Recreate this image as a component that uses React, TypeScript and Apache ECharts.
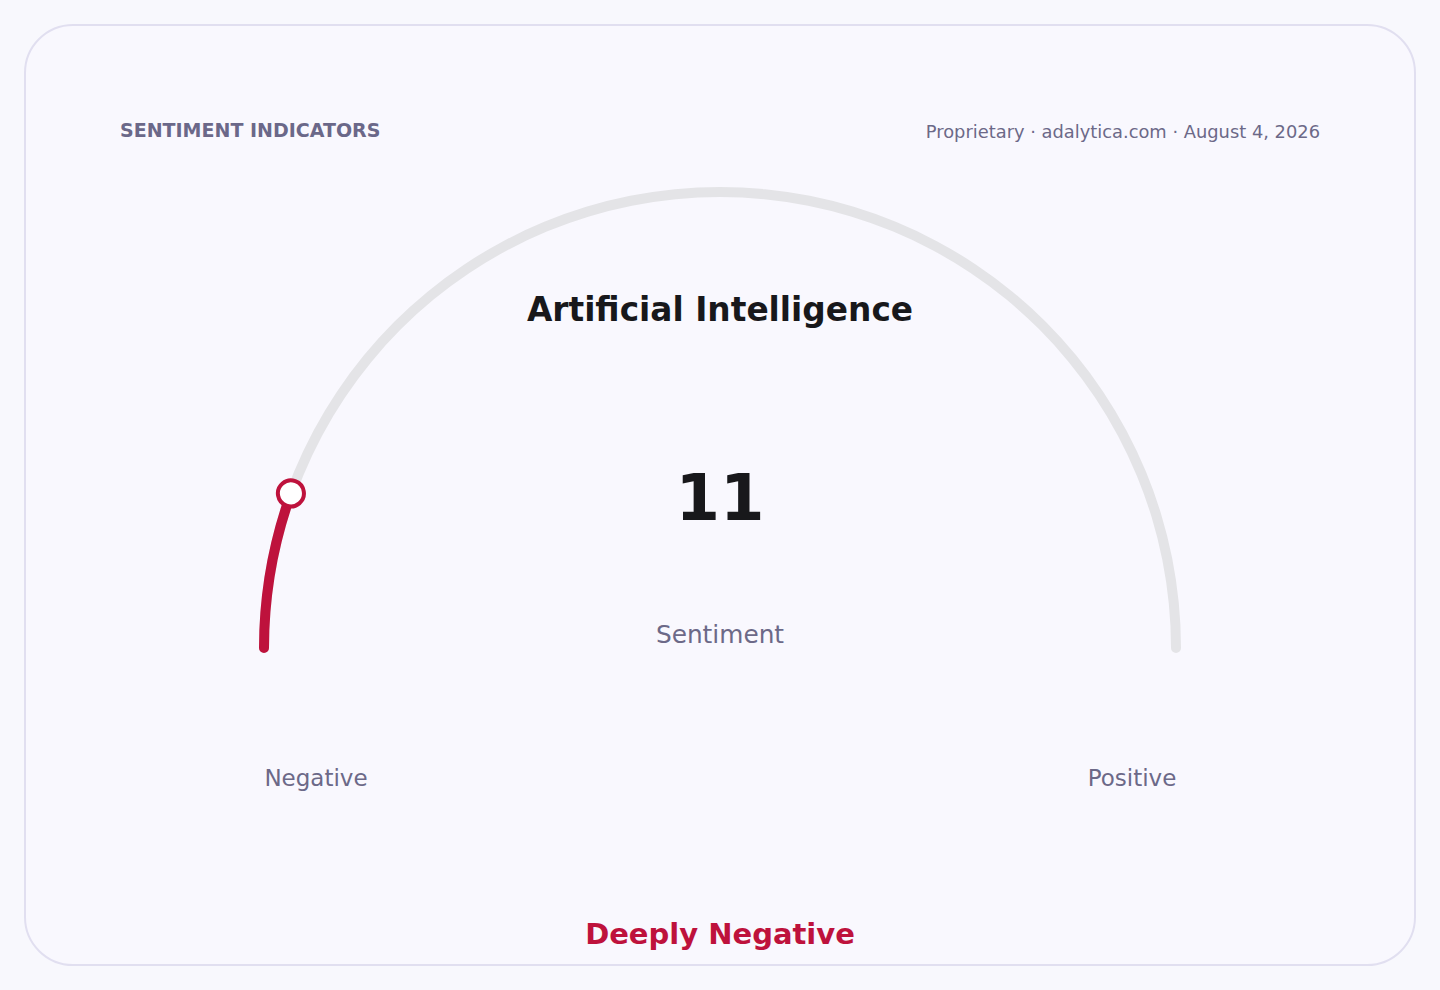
import React, { useEffect, useRef } from "react";
import * as echarts from "echarts";

const HEADER = "SENTIMENT INDICATORS";
const SOURCE = "Proprietary · adalytica.com · August 4, 2026";
const TOPIC = "Artificial Intelligence";
const METRIC = "Sentiment";
const VALUES = [11];
const SCALE_MIN = 0;
const SCALE_MAX = 100;
const SCALE_LABELS = ["Negative", "Positive"];
const VERDICT = "Deeply Negative";

const FONT = "'DejaVu Sans', sans-serif";
const RED = "#be123c";
const MUTED = "#6c6988";

export default function App() {
  const ref = useRef<HTMLDivElement>(null);
  useEffect(() => {
    if (!ref.current) return;
    const chart = echarts.init(ref.current, undefined, { renderer: "svg" });
    const common = {
      type: "gauge",
      center: [720, 648],
      radius: 461,
      startAngle: 180,
      endAngle: 0,
      min: SCALE_MIN,
      max: SCALE_MAX,
      anchor: { show: false },
      axisTick: { show: false },
      splitLine: { show: false },
      axisLabel: { show: false },
    };
    chart.setOption({
      animation: false,
      backgroundColor: "#f8f8fd",
      graphic: [
        {
          type: "rect",
          z: -10,
          shape: { x: 25, y: 25, width: 1390, height: 940, r: 48 },
          style: { fill: "#f9f8fe", stroke: "#e1dff0", lineWidth: 2 },
        },
        {
          type: "text",
          x: 120,
          y: 130,
          style: { text: HEADER, font: `bold 19px ${FONT}`, fill: "#6b6889", textAlign: "left", textVerticalAlign: "middle" },
        },
        {
          type: "text",
          x: 1320,
          y: 131,
          style: { text: SOURCE, font: `17.85px ${FONT}`, fill: MUTED, textAlign: "right", textVerticalAlign: "middle" },
        },
        {
          type: "text",
          x: 720,
          y: 310,
          style: { text: TOPIC, font: `bold 32.8px ${FONT}`, fill: "#18181b", textAlign: "center", textVerticalAlign: "middle" },
        },
        {
          type: "text",
          x: 316,
          y: 778,
          style: { text: SCALE_LABELS[0], font: `23px ${FONT}`, fill: MUTED, textAlign: "center", textVerticalAlign: "middle" },
        },
        {
          type: "text",
          x: 1132,
          y: 778,
          style: { text: SCALE_LABELS[1], font: `23px ${FONT}`, fill: MUTED, textAlign: "center", textVerticalAlign: "middle" },
        },
        {
          type: "text",
          x: 720,
          y: 934,
          style: { text: VERDICT, font: `bold 29px ${FONT}`, fill: RED, textAlign: "center", textVerticalAlign: "middle" },
        },
      ],
      series: [
        {
          ...common,
          z: 2,
          axisLine: { roundCap: true, lineStyle: { width: 10, color: [[1, "#e4e4e7"]] } },
          progress: { show: true, width: 10, roundCap: true, itemStyle: { color: RED } },
          pointer: { show: false },
          title: { offsetCenter: [0, -14], fontSize: 24.8, color: MUTED, fontFamily: FONT },
          detail: {
            offsetCenter: [0, -150],
            fontSize: 64,
            fontWeight: "bold",
            color: "#18181b",
            fontFamily: FONT,
            valueAnimation: false,
            formatter: "{value}",
          },
          data: VALUES.map((v) => ({ value: v, name: METRIC })),
        },
        {
          ...common,
          z: 5,
          axisLine: { show: false },
          progress: { show: false },
          pointer: {
            show: true,
            icon: "circle",
            length: 26,
            width: 26,
            offsetCenter: [0, -443],
            itemStyle: { color: "#ffffff", borderColor: RED, borderWidth: 4 },
          },
          title: { show: false },
          detail: { show: false },
          data: VALUES.map((v) => ({ value: v, name: METRIC })),
        },
      ],
    });
    return () => chart.dispose();
  }, []);
  return <div ref={ref} style={{ position: "fixed", left: 0, top: 0, width: 1440, height: 990 }} />;
}
